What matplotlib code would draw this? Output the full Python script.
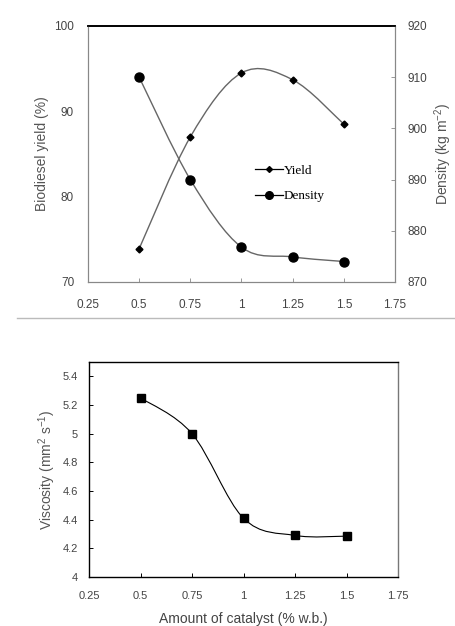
import numpy as np
import matplotlib
matplotlib.use("Agg")
import matplotlib.pyplot as plt
from matplotlib.path import Path
from matplotlib.patches import PathPatch
from matplotlib.lines import Line2D

# data
catalyst = [0.5, 0.75, 1.0, 1.25, 1.5]
yield_pct = [73.9, 87.0, 94.5, 93.7, 88.5]
density = [910.0, 890.0, 876.8, 874.9, 874.0]
viscosity = [5.25, 5.0, 4.41, 4.29, 4.285]
xticks = [0.25, 0.5, 0.75, 1, 1.25, 1.5, 1.75]
xticklabels = ["0.25", "0.5", "0.75", "1", "1.25", "1.5", "1.75"]


def smooth_path(x, y):
    # Excel-like smoothed line: cubic bezier segments through the points
    x = np.asarray(x, float)
    y = np.asarray(y, float)
    verts = [(x[0], y[0])]
    codes = [Path.MOVETO]
    n = len(x)
    for i in range(n - 1):
        i0 = max(i - 1, 0)
        i3 = min(i + 2, n - 1)
        c1 = (x[i] + (x[i + 1] - x[i0]) / 6, y[i] + (y[i + 1] - y[i0]) / 6)
        c2 = (x[i + 1] - (x[i3] - x[i]) / 6, y[i + 1] - (y[i3] - y[i]) / 6)
        verts += [c1, c2, (x[i + 1], y[i + 1])]
        codes += [Path.CURVE4] * 3
    return Path(verts, codes)


plt.rcParams["font.family"] = ["Liberation Sans", "DejaVu Sans"]
plt.rcParams["mathtext.default"] = "regular"
fig = plt.figure(figsize=(4.56, 6.26), dpi=100)

gray = "#888888"
tick_col = "#444444"

# ---- top chart: yield and density
ax = fig.add_axes([88 / 456, 1 - 282 / 626, 307 / 456, 256 / 626])
ax2 = ax.twinx()

ax.add_patch(PathPatch(smooth_path(catalyst, yield_pct), fill=False,
                       edgecolor="#666666", lw=1.0))
ax.plot(catalyst, yield_pct, ls="none", marker="D", ms=3.5, color="black")
ax2.add_patch(PathPatch(smooth_path(catalyst, density), fill=False,
                        edgecolor="#666666", lw=1.0))
ax2.plot(catalyst, density, ls="none", marker="o", ms=6.5, color="black")

ax.set_xlim(0.25, 1.75)
ax.set_ylim(70, 100)
ax2.set_ylim(870, 920)
ax.set_xticks(xticks)
ax.set_xticklabels(xticklabels)
ax.set_yticks([70, 80, 90, 100])
ax2.set_yticks([870, 880, 890, 900, 910, 920])

for a in (ax, ax2):
    for s in a.spines.values():
        s.set_color(gray)
        s.set_linewidth(0.8)
    a.spines["top"].set_color("black")
    a.spines["top"].set_linewidth(1.2)
    a.tick_params(direction="in", length=3, width=0.6, color=gray,
                  labelsize=8.5, labelcolor=tick_col, pad=6)
ax.tick_params(axis="y", length=0, pad=10)
ax2.tick_params(axis="y", pad=9)
ax.tick_params(axis="x", pad=12)

ax.set_ylabel("Biodiesel yield (%)", fontsize=10, color="#555555", labelpad=4)
ax2.set_ylabel("Density (kg m$^{-2}$)", fontsize=10, color="#555555",
               rotation=90, labelpad=4)

handles = [Line2D([], [], color="black", lw=0.9, marker="D", ms=3),
           Line2D([], [], color="black", lw=0.9, marker="o", ms=5.5)]
ax.legend(handles, ["Yield", "Density"], loc="upper left",
          bbox_to_anchor=(0.505, 0.505), frameon=False, handlelength=2.1,
          handletextpad=0.1, labelspacing=1.0,
          prop={"family": "Liberation Serif", "size": 9.5})

# separator line between the two panels
fig.add_artist(Line2D([17 / 456, 1.0], [1 - 318 / 626, 1 - 318 / 626],
                      color="#bbbbbb", lw=1.0))

# ---- bottom chart: viscosity
bx = fig.add_axes([89 / 456, 1 - 577 / 626, 309 / 456, 215 / 626])
bx.add_patch(PathPatch(smooth_path(catalyst, viscosity), fill=False,
                       edgecolor="black", lw=0.8))
bx.plot(catalyst, viscosity, ls="none", marker="s", ms=5.5, color="black")
bx.set_xlim(0.25, 1.75)
bx.set_ylim(4, 5.5)
bx.set_xticks(xticks)
bx.set_xticklabels(xticklabels)
bx.set_yticks([4, 4.2, 4.4, 4.6, 4.8, 5, 5.2, 5.4])
bx.set_yticklabels(["4", "4.2", "4.4", "4.6", "4.8", "5", "5.2", "5.4"])
for s in bx.spines.values():
    s.set_color("black")
    s.set_linewidth(1.0)
bx.spines["right"].set_color("#777777")
bx.tick_params(direction="in", length=3, width=0.7, labelsize=8,
               labelcolor=tick_col, pad=6)
bx.tick_params(axis="y", pad=8)
bx.tick_params(axis="x", pad=10)
bx.set_ylabel("Viscosity (mm$^{2}$ s$^{-1}$)", fontsize=10, color="#555555",
              labelpad=3)
bx.set_xlabel("Amount of catalyst (% w.b.)", fontsize=10, color="#444444",
              labelpad=8)

fig.savefig("out.png", dpi=100)
